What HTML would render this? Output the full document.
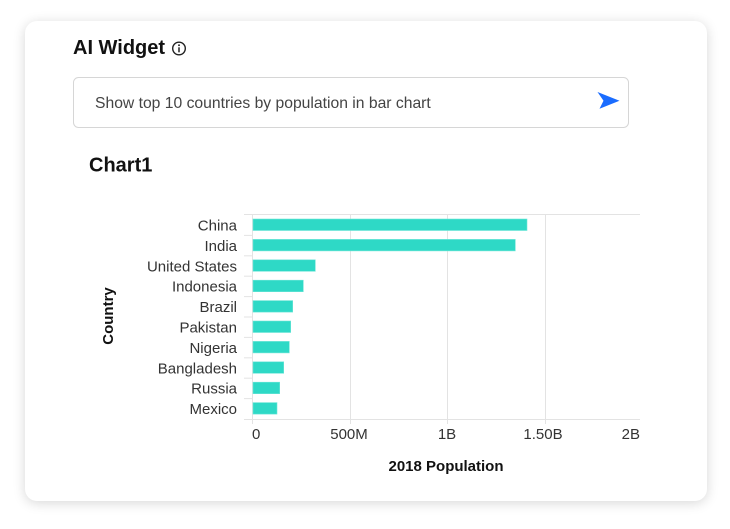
<!DOCTYPE html>
<html><head><meta charset="utf-8"><style>
html,body{margin:0;padding:0;background:#fff;width:730px;height:529px;overflow:hidden;}
.card{position:absolute;left:25px;top:21px;width:682px;height:480px;border-radius:12px;background:#fff;box-shadow:0 2px 12px rgba(0,0,0,0.16);}
svg{position:absolute;left:0;top:0;}
text{font-family:"Liberation Sans",Arial,sans-serif;}
</style></head><body>
<div class="card"></div>
<svg width="730" height="529" viewBox="0 0 730 529">
  <text x="73" y="54" font-size="20" font-weight="bold" fill="#111">AI Widget</text>
  <circle cx="179" cy="48.5" r="6.3" fill="none" stroke="#222" stroke-width="1.4"/>
  <circle cx="179" cy="45.2" r="0.95" fill="#222"/>
  <line x1="179" y1="47.3" x2="179" y2="52.3" stroke="#222" stroke-width="1.5"/>

  <rect x="73.5" y="77.5" width="555" height="50" rx="5" fill="#fff" stroke="#d6d6d6"/>
  <text x="95" y="108" font-size="15.7" fill="#444">Show top 10 countries by population in bar chart</text>
  <path d="M597.5,92 L619.5,100.7 L599.5,108.8 L603.5,100.7 Z" fill="#1a6cff"/>

  <text x="89" y="171.5" font-size="20" font-weight="bold" fill="#111">Chart1</text>

  <!-- grid -->
  <g stroke="#e3e3e3" stroke-width="1" fill="none">
    <line x1="244" y1="214.5" x2="640" y2="214.5"/>
    <line x1="244" y1="419.5" x2="640" y2="419.5"/>
    <line x1="252.5" y1="214.5" x2="252.5" y2="424"/>
    <line x1="350.5" y1="214.5" x2="350.5" y2="424"/>
    <line x1="447.5" y1="214.5" x2="447.5" y2="424"/>
    <line x1="545.5" y1="214.5" x2="545.5" y2="424"/>
    <line x1="244" y1="235.4" x2="252" y2="235.4"/>
    <line x1="244" y1="255.8" x2="252" y2="255.8"/>
    <line x1="244" y1="276.2" x2="252" y2="276.2"/>
    <line x1="244" y1="296.6" x2="252" y2="296.6"/>
    <line x1="244" y1="317" x2="252" y2="317"/>
    <line x1="244" y1="337.4" x2="252" y2="337.4"/>
    <line x1="244" y1="357.8" x2="252" y2="357.8"/>
    <line x1="244" y1="378.2" x2="252" y2="378.2"/>
    <line x1="244" y1="398.6" x2="252" y2="398.6"/>
  </g>

  <!-- bars -->
  <g fill="#2ed9c6" stroke="#6fe6d8" stroke-width="0.6">
    <rect x="253" y="219" width="274" height="11.5"/>
    <rect x="253" y="239.4" width="262.3" height="11.5"/>
    <rect x="253" y="259.8" width="62.3" height="11.5"/>
    <rect x="253" y="280.2" width="50.3" height="11.5"/>
    <rect x="253" y="300.6" width="39.7" height="11.5"/>
    <rect x="253" y="321" width="37.7" height="11.5"/>
    <rect x="253" y="341.4" width="36.3" height="11.5"/>
    <rect x="253" y="361.8" width="30.7" height="11.5"/>
    <rect x="253" y="382.2" width="26.7" height="11.5"/>
    <rect x="253" y="402.6" width="24" height="11.5"/>
  </g>

  <!-- y labels -->
  <g font-size="15" fill="#333" text-anchor="end">
    <text x="237" y="230.5">China</text>
    <text x="237" y="250.9">India</text>
    <text x="237" y="271.3">United States</text>
    <text x="237" y="291.7">Indonesia</text>
    <text x="237" y="312.1">Brazil</text>
    <text x="237" y="332.5">Pakistan</text>
    <text x="237" y="352.9">Nigeria</text>
    <text x="237" y="373.3">Bangladesh</text>
    <text x="237" y="393.7">Russia</text>
    <text x="237" y="414.1">Mexico</text>
  </g>
  <text transform="translate(113,316) rotate(-90)" font-size="15" font-weight="bold" fill="#111" text-anchor="middle">Country</text>

  <!-- x labels -->
  <g font-size="15" fill="#333">
    <text x="252" y="439">0</text>
    <text x="349" y="439" text-anchor="middle">500M</text>
    <text x="447" y="439" text-anchor="middle">1B</text>
    <text x="543" y="439" text-anchor="middle">1.50B</text>
    <text x="640" y="439" text-anchor="end">2B</text>
  </g>
  <text x="446" y="471" font-size="15" font-weight="bold" fill="#111" text-anchor="middle">2018 Population</text>
</svg>
</body></html>
